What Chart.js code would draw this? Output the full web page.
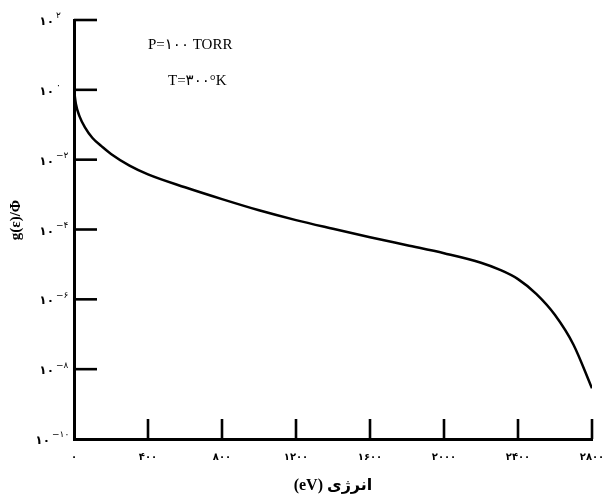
<!DOCTYPE html>
<html>
<head>
<meta charset="utf-8">
<script src="https://cdn.jsdelivr.net/npm/chart.js@4.4.1/dist/chart.umd.min.js"></script>
<style>
html,body{margin:0;padding:0;background:#fff;}
#wrap{width:602px;height:499px;}
</style>
</head>
<body>
<div id="wrap"><canvas id="c" width="602" height="499"></canvas></div>
<script>
// ---- data ----
const energies = [0, 10, 30, 60, 100, 150, 200, 300, 400, 600, 800, 1000, 1200, 1400, 1600, 1800, 2000, 2200, 2300, 2400, 2500, 2600, 2700, 2800];
const gValues  = [1.0, 0.398, 0.174, 0.0832, 0.0417, 0.0240, 0.0145, 0.00676, 0.00380, 0.00162, 7.41e-4, 3.55e-4, 1.86e-4, 1.05e-4, 6.03e-5, 3.55e-5, 2.09e-5, 1.12e-5, 7.08e-6, 3.80e-6, 1.41e-6, 3.55e-7, 5.01e-8, 2.82e-9];
const xTickValues = [0, 400, 800, 1200, 1600, 2000, 2400, 2800];
const yTickValues = [1e2, 1e0, 1e-2, 1e-4, 1e-6, 1e-8, 1e-10];
const yTickExponents = ['۲', '۰', '−۲', '−۴', '−۶', '−۸', '−۱۰'];
const yTitle = 'g(ε)/Φ';
const xTitle = '(eV) انرژی';
const noteLines = ['P=۱۰۰ TORR', 'T=۳۰۰°K'];

const faDigits = '۰۱۲۳۴۵۶۷۸۹';
const toFa = s => String(s).replace(/[0-9]/g, d => faDigits[+d]);

const decor = {
  id: 'decor',
  afterDraw(chart) {
    const {ctx, chartArea: a, scales: {x, y}} = chart;
    ctx.save();
    ctx.strokeStyle = '#000';
    ctx.lineCap = 'butt';
    // y ticks (inward)
    ctx.lineWidth = 2.6;
    yTickValues.forEach(v => {
      if (v === 1e-10) return;
      const py = y.getPixelForValue(v);
      ctx.beginPath(); ctx.moveTo(a.left, py); ctx.lineTo(a.left + 23, py); ctx.stroke();
    });
    // x ticks (inward)
    xTickValues.forEach(v => {
      if (v === 0) return;
      const px = x.getPixelForValue(v);
      ctx.beginPath(); ctx.moveTo(px, a.bottom); ctx.lineTo(px, a.bottom - 20); ctx.stroke();
    });
    // y tick labels with superscript exponents
    ctx.fillStyle = '#000';
    yTickValues.forEach((v, i) => {
      const py = y.getPixelForValue(v);
      const long = yTickExponents[i].length > 2;
      ctx.font = 'bold 12px "DejaVu Sans", sans-serif';
      ctx.textAlign = 'right';
      ctx.textBaseline = 'middle';
      ctx.fillText('۱۰', long ? 50 : 54, py + 2);
      ctx.font = '9px "DejaVu Sans", sans-serif';
      ctx.textAlign = 'left';
      ctx.fillText(yTickExponents[i], long ? 52 : 56, py - 4);
    });
    // y axis title
    ctx.save();
    ctx.translate(16, 220);
    ctx.rotate(-Math.PI / 2);
    ctx.font = 'bold 15px "Liberation Serif", "DejaVu Serif", serif';
    ctx.textAlign = 'center';
    ctx.textBaseline = 'middle';
    ctx.fillText(yTitle, 0, 0);
    ctx.restore();
    // annotation text
    ctx.font = '15px "Liberation Serif", "DejaVu Sans", serif';
    ctx.textAlign = 'left';
    ctx.textBaseline = 'middle';
    ctx.fillText(noteLines[0], a.left + 74, 45);
    ctx.fillText(noteLines[1], a.left + 94, 81);
    ctx.restore();
  }
};

new Chart(document.getElementById('c'), {
  type: 'line',
  data: {
    datasets: [{
      data: energies.map((e, i) => ({x: e, y: gValues[i]})),
      borderColor: '#000',
      borderWidth: 2.5,
      pointRadius: 0,
      fill: false,
      cubicInterpolationMode: 'monotone'
    }]
  },
  options: {
    responsive: false,
    animation: false,
    layout: {padding: {top: 20, right: 10, left: 0, bottom: 0}},
    plugins: {legend: {display: false}, tooltip: {enabled: false}},
    scales: {
      x: {
        type: 'linear', min: 0, max: 2800,
        afterBuildTicks: s => { s.ticks = xTickValues.map(v => ({value: v})); },
        ticks: {
          callback: v => toFa(v), color: '#000', padding: 12, maxRotation: 0, autoSkip: false,
          font: {family: '"DejaVu Sans", sans-serif', size: 10, weight: 'bold'}
        },
        grid: {display: true, drawOnChartArea: false, drawTicks: false},
        border: {display: true, color: '#000', width: 3},
        title: {
          display: true, text: xTitle, color: '#000',
          font: {family: '"Liberation Serif", "DejaVu Sans", serif', size: 16, weight: 'bold'},
          padding: {top: 4, bottom: 4}
        },
        afterFit: s => { s.height = 60; s.paddingLeft = 0; s.paddingRight = 0; }
      },
      y: {
        type: 'logarithmic', min: 1e-10, max: 1e2,
        ticks: {display: false},
        grid: {display: true, drawOnChartArea: false, drawTicks: false},
        border: {display: true, color: '#000', width: 3},
        title: {display: false},
        afterFit: s => { s.width = 74; s.paddingTop = 0; s.paddingBottom = 0; }
      }
    }
  },
  plugins: [decor]
});
</script>
</body>
</html>
